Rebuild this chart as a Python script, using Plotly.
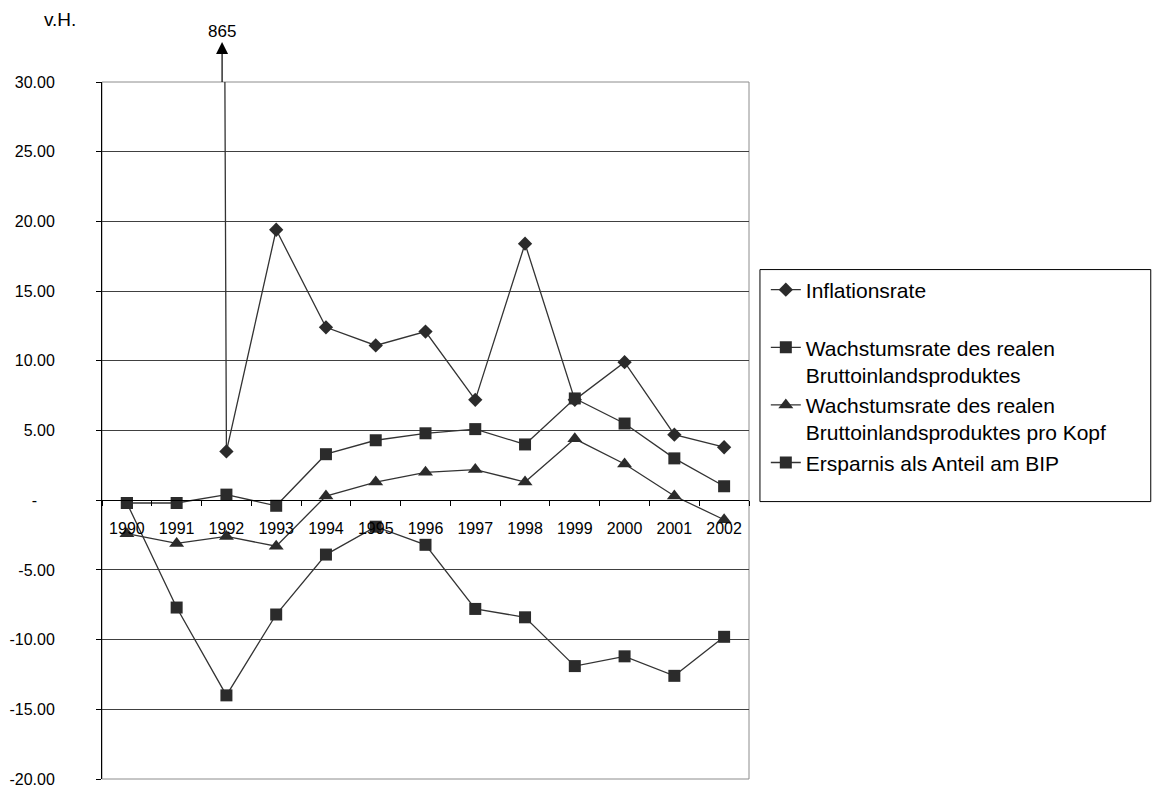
import plotly.graph_objects as go

years = ['1990', '1991', '1992', '1993', '1994', '1995', '1996',
         '1997', '1998', '1999', '2000', '2001', '2002']
inflation = [None, 865, 3.5, 19.4, 12.4, 11.1, 12.1, 7.2, 18.4, 7.2, 9.9, 4.7, 3.8]
bip_growth = [-0.2, -0.2, 0.4, -0.4, 3.3, 4.3, 4.8, 5.1, 4.0, 7.3, 5.5, 3.0, 1.0]
bip_growth_capita = [-2.4, -3.1, -2.6, -3.3, 0.3, 1.3, 2.0, 2.2, 1.3, 4.4, 2.6, 0.3, -1.4]
savings_share = [-0.2, -7.7, -14.0, -8.2, -3.9, -1.9, -3.2, -7.8, -8.4, -11.9, -11.2, -12.6, -9.8]

series_names = [
    'Inflationsrate<br>\u00a0',
    'Wachstumsrate des realen<br>Bruttoinlandsproduktes',
    'Wachstumsrate des realen<br>Bruttoinlandsproduktes pro Kopf',
    'Ersparnis als Anteil am BIP',
]
y_tickvals = [30, 25, 20, 15, 10, 5, 0, -5, -10, -15, -20]
y_ticktext = ['30.00', '25.00', '20.00', '15.00', '10.00', '5.00',
              '-\u00a0\u00a0\u00a0\u00a0', '-5.00', '-10.00', '-15.00', '-20.00']
peak_label = '865'
unit_label = 'v.H.'
y_min, y_max = -20, 30

FONT = 'Liberation Sans, Arial, sans-serif'
LINE_C = '#333333'
MARK_C = '#2b2b2b'

fig = go.Figure()
specs = [
    (inflation, 'diamond', 11),
    (bip_growth, 'square', 12),
    (bip_growth_capita, 'triangle-up', 13),
    (savings_share, 'square', 12),
]
for (vals, sym, sz), name in zip(specs, series_names):
    fig.add_trace(go.Scatter(
        x=years, y=vals, name=name, mode='lines+markers',
        line=dict(color=LINE_C, width=1.3),
        marker=dict(symbol=sym, size=sz, color=MARK_C, line=dict(width=0)),
        connectgaps=False,
    ))

fig.update_layout(
    width=1156, height=797, autosize=False,
    margin=dict(l=100, r=407, t=82, b=9),
    paper_bgcolor='white', plot_bgcolor='white',
    font=dict(family=FONT, color='black', size=16),
    showlegend=True,
    legend=dict(
        x=1.026, xanchor='left', y=0.7309, yanchor='top',
        font=dict(family=FONT, size=21, color='black'),
        bgcolor='rgba(0,0,0,0)', borderwidth=0, valign='top',
        traceorder='normal',
    ),
    xaxis=dict(
        type='category', range=[-0.5, 12.5],
        anchor='free', position=(0 - y_min) / (y_max - y_min),
        showline=True, linecolor='black', linewidth=1,
        showgrid=False, zeroline=False,
        ticks='outside', ticklen=5, tickcolor='black', tickwidth=1,
        tickson='boundaries', ticklabelstandoff=14,
        tickfont=dict(family=FONT, size=16, color='black'),
    ),
    yaxis=dict(
        range=[y_min, y_max], tickmode='array',
        tickvals=y_tickvals, ticktext=y_ticktext,
        showline=True, linecolor='black', linewidth=1,
        showgrid=True, gridcolor='#404040', gridwidth=1,
        zeroline=False,
        ticks='outside', ticklen=5, tickcolor='black', tickwidth=1,
        ticklabelstandoff=38,
        tickfont=dict(family=FONT, size=16, color='black'),
    ),
    shapes=[
        dict(type='rect', xref='paper', yref='paper', x0=0, x1=1, y0=0, y1=1,
             line=dict(color='#8c8c8c', width=1), fillcolor='rgba(0,0,0,0)',
             layer='between'),
        dict(type='rect', xref='paper', yref='paper',
             x0=(760 - 100) / 649, x1=(1152 - 100) / 649,
             y0=(788 - 507) / 706, y1=(788 - 272) / 706,
             line=dict(color='black', width=1), fillcolor='rgba(0,0,0,0)',
             layer='above'),
    ],
    annotations=[
        dict(text=unit_label, xref='paper', yref='paper',
             x=(58 - 100) / 649, y=(788 - 19) / 706,
             showarrow=False, font=dict(family=FONT, size=19, color='black'),
             xanchor='center', yanchor='middle'),
        dict(text=peak_label, xref='x', yref='y',
             x=1.913, y=y_max,
             showarrow=True, arrowside='start', ax=0, ay=-51,
             startarrowhead=2, startarrowsize=2,
             arrowhead=2, arrowsize=2, arrowwidth=1.2, arrowcolor='black',
             font=dict(family=FONT, size=17, color='black')),
    ],
)

fig.write_html('out.html')
